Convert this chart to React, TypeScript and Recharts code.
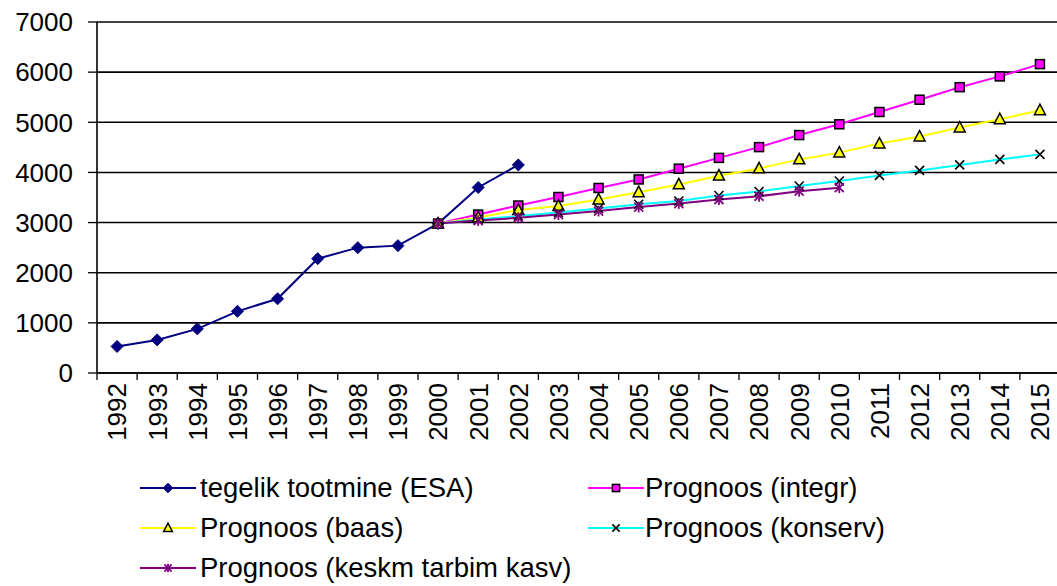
import React from "react"
import { LineChart, Line, XAxis, YAxis, CartesianGrid, Legend } from "recharts"

// years on the category axis
const years = [
  1992, 1993, 1994, 1995, 1996, 1997, 1998, 1999, 2000, 2001, 2002, 2003,
  2004, 2005, 2006, 2007, 2008, 2009, 2010, 2011, 2012, 2013, 2014, 2015,
]
// actual output 1992..2002
const esaValues = [530, 660, 880, 1230, 1480, 2280, 2500, 2540, 2980, 3700, 4150]
// forecasts start in 2000
const forecastStart = 2000
const integrValues = [2980, 3160, 3340, 3510, 3690, 3860, 4075, 4290, 4505, 4745, 4960, 5205, 5450, 5700, 5915, 6160]
const baasValues = [2980, 3100, 3250, 3330, 3460, 3605, 3760, 3935, 4080, 4260, 4395, 4575, 4715, 4895, 5060, 5240]
const konservValues = [2980, 3060, 3130, 3200, 3280, 3365, 3430, 3540, 3620, 3730, 3830, 3940, 4040, 4150, 4260, 4360]
const keskmValues = [2980, 3040, 3095, 3160, 3230, 3310, 3380, 3460, 3525, 3625, 3695]
const yTicks = [0, 1000, 2000, 3000, 4000, 5000, 6000, 7000]

const CHART_W = 1060
const CHART_H = 586
const Y_AXIS_W = 97
const PLOT_BOTTOM = 373
const BAND = (CHART_W - Y_AXIS_W) / years.length
const FONT = "'Liberation Sans', Arial, sans-serif"

const fIdx = years.indexOf(forecastStart)
const data = years.map((year, i) => ({
  year,
  esa: i < esaValues.length ? esaValues[i] : null,
  integr: i >= fIdx ? integrValues[i - fIdx] ?? null : null,
  baas: i >= fIdx ? baasValues[i - fIdx] ?? null : null,
  konserv: i >= fIdx ? konservValues[i - fIdx] ?? null : null,
  keskm: i >= fIdx ? keskmValues[i - fIdx] ?? null : null,
}))

type MarkerKind = "diamond" | "square" | "triangle" | "cross" | "star"

function Marker({ kind, cx, cy, s, fill }: { kind: MarkerKind; cx: number; cy: number; s: number; fill: string }) {
  if (kind === "diamond") {
    return <polygon points={`${cx},${cy - s} ${cx + s},${cy} ${cx},${cy + s} ${cx - s},${cy}`} fill={fill} stroke={fill} />
  }
  if (kind === "square") {
    return <rect x={cx - s} y={cy - s} width={s * 2} height={s * 2} fill={fill} stroke="#000" strokeWidth={1.5} />
  }
  if (kind === "triangle") {
    return (
      <polygon
        points={`${cx},${cy - s * 1.1} ${cx + s},${cy + s * 0.8} ${cx - s},${cy + s * 0.8}`}
        fill={fill}
        stroke="#000"
        strokeWidth={1.5}
        strokeLinejoin="miter"
      />
    )
  }
  if (kind === "cross") {
    return (
      <g stroke="#000" strokeWidth={1.6}>
        <line x1={cx - s} y1={cy - s} x2={cx + s} y2={cy + s} />
        <line x1={cx - s} y1={cy + s} x2={cx + s} y2={cy - s} />
      </g>
    )
  }
  return (
    <g stroke={fill} strokeWidth={1.8}>
      <line x1={cx - s} y1={cy - s} x2={cx + s} y2={cy + s} />
      <line x1={cx - s} y1={cy + s} x2={cx + s} y2={cy - s} />
      <line x1={cx} y1={cy - s * 1.2} x2={cx} y2={cy + s * 1.2} />
    </g>
  )
}

const series = [
  { key: "esa", name: "tegelik tootmine (ESA)", color: "#000080", marker: "diamond" as MarkerKind, fill: "#000080", size: 6, width: 2 },
  { key: "integr", name: "Prognoos (integr)", color: "#FF00FF", marker: "square" as MarkerKind, fill: "#FF00FF", size: 4.5, width: 2 },
  { key: "baas", name: "Prognoos (baas)", color: "#FFFF00", marker: "triangle" as MarkerKind, fill: "#FFFF00", size: 5.5, width: 2 },
  { key: "konserv", name: "Prognoos (konserv)", color: "#00FFFF", marker: "cross" as MarkerKind, fill: "#000", size: 4.5, width: 2 },
  { key: "keskm", name: "Prognoos (keskm tarbim kasv)", color: "#800080", marker: "star" as MarkerKind, fill: "#800080", size: 4.5, width: 2 },
]

const makeDot = (s: (typeof series)[number]) => (props: any) => {
  const { cx, cy, index } = props
  if (cx == null || cy == null || props.value == null) return <g key={`d-${s.key}-${index}`} />
  return (
    <g key={`d-${s.key}-${index}`}>
      <Marker kind={s.marker} cx={cx} cy={cy} s={s.size} fill={s.fill} />
    </g>
  )
}

const XTick = (props: any) => {
  const { x, payload } = props
  const ly = PLOT_BOTTOM + 10
  return (
    <g>
      <line x1={x - BAND / 2} y1={PLOT_BOTTOM} x2={x - BAND / 2} y2={PLOT_BOTTOM + 7} stroke="#000" strokeWidth={1.3} />
      <text
        x={x}
        y={ly}
        dy="0.36em"
        textAnchor="end"
        transform={`rotate(-90, ${x}, ${ly})`}
        fill="#000"
        fontSize={26}
        fontFamily={FONT}
      >
        {payload.value}
      </text>
    </g>
  )
}

const legendPos = [
  { icon: 140, text: 200, row: 43 },
  { icon: 588, text: 645, row: 43 },
  { icon: 140, text: 200, row: 83 },
  { icon: 588, text: 645, row: 83 },
  { icon: 140, text: 200, row: 123 },
]

const renderLegend = () => (
  <div style={{ position: "relative", width: CHART_W, height: 141, fontFamily: FONT }}>
    {series.map((s, i) => {
      const p = legendPos[i]
      return (
        <div key={s.key}>
          <svg
            width={56}
            height={20}
            style={{ position: "absolute", left: p.icon, top: p.row - 10 }}
          >
            <line x1={0} y1={10} x2={56} y2={10} stroke={s.color} strokeWidth={2} />
            <Marker kind={s.marker} cx={28} cy={10} s={s.size * 0.8} fill={s.fill} />
          </svg>
          <span
            style={{
              position: "absolute",
              left: p.text,
              top: p.row - 17,
              fontSize: 27.5,
              lineHeight: "34px",
              color: "#000",
              whiteSpace: "nowrap",
            }}
          >
            {s.name}
          </span>
        </div>
      )
    })}
  </div>
)

export default function App() {
  return (
    <div
      style={{
        position: "absolute",
        left: 0,
        top: 0,
        width: 1057,
        height: 586,
        overflow: "hidden",
        background: "#fff",
        fontFamily: FONT,
      }}
    >
      <LineChart width={CHART_W} height={CHART_H} data={data} margin={{ top: 22, right: 0, left: 0, bottom: 0 }}>
        <CartesianGrid vertical={false} stroke="#000" strokeWidth={1.6} />
        <XAxis
          dataKey="year"
          type="number"
          domain={[years[0] - 0.5, years[years.length - 1] + 0.5]}
          ticks={years}
          interval={0}
          height={72}
          axisLine={{ stroke: "#000", strokeWidth: 1.6 }}
          tickLine={false}
          tick={<XTick />}
        />
        <YAxis
          width={Y_AXIS_W}
          domain={[0, 7000]}
          ticks={yTicks}
          interval={0}
          tickSize={9}
          tickMargin={15}
          axisLine={{ stroke: "#000", strokeWidth: 1.6 }}
          tickLine={{ stroke: "#000", strokeWidth: 1.3 }}
          tick={{ fill: "#000", fontSize: 26, fontFamily: FONT }}
        />
        <Legend verticalAlign="bottom" height={141} wrapperStyle={{ left: 0, top: 445, width: CHART_W, height: 141 }} content={renderLegend} />
        {series.map((s) => (
          <Line
            key={s.key}
            dataKey={s.key}
            name={s.name}
            stroke={s.color}
            strokeWidth={s.width}
            dot={makeDot(s)}
            activeDot={false}
            isAnimationActive={false}
            connectNulls={false}
          />
        ))}
      </LineChart>
    </div>
  )
}
